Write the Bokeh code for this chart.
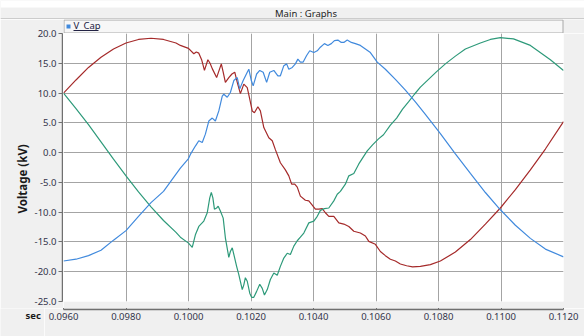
from bokeh.plotting import figure
from bokeh.models import Range1d, FixedTicker, NumeralTickFormatter, Grid, Title
from bokeh.layouts import column, row
from bokeh.core.properties import value
from bokeh.embed import file_html
from bokeh.resources import INLINE

# ---- capacitor voltages (kV) against time (s) ----
x_ticks = [0.0960, 0.0980, 0.1000, 0.1020, 0.1040, 0.1060, 0.1080, 0.1100, 0.1120]
y_ticks = [-25.0, -20.0, -15.0, -10.0, -5.0, 0.0, 5.0, 10.0, 15.0, 20.0]

red_t = [0.0960, 0.0964, 0.0968, 0.0972, 0.0976, 0.0980, 0.0984, 0.0988, 0.0992, 0.0996,
         0.09974, 0.1000, 0.10017, 0.10025, 0.10033, 0.10042, 0.10051, 0.10062, 0.10069, 0.10076,
         0.10090, 0.10105, 0.10111, 0.10118, 0.10129, 0.10139, 0.10148, 0.10156, 0.10166, 0.10177,
         0.10188, 0.10196, 0.10204, 0.10211, 0.10222, 0.10230, 0.10241, 0.10257, 0.10268, 0.10278,
         0.10294, 0.10310, 0.10321, 0.10330, 0.10340, 0.10348, 0.10358, 0.10374, 0.10385, 0.10396,
         0.10406, 0.10417, 0.10428, 0.10438, 0.10449, 0.10465, 0.10481, 0.10497, 0.10513, 0.10529,
         0.10550, 0.10566, 0.10577, 0.10598, 0.10614, 0.10630, 0.10646, 0.10662, 0.10678, 0.10698,
         0.10717, 0.10742, 0.10774, 0.10806, 0.10854, 0.10902, 0.10950, 0.10998, 0.11046, 0.11094,
         0.11142, 0.1120]
red_v = [10.0, 12.2, 14.3, 16.0, 17.4, 18.4, 19.0, 19.2, 19.0, 18.4,
         18.0, 17.5, 16.6, 16.9, 16.7, 15.6, 13.8, 15.6, 15.0, 14.1,
         12.6, 14.9, 13.5, 11.8, 12.6, 13.2, 13.5, 11.8, 9.9, 11.5,
         10.9, 9.0, 7.0, 6.7, 7.7, 7.0, 4.2, 2.5, 2.0, 0.5,
         -1.7, -2.9, -3.9, -5.3, -5.3, -5.8, -7.3, -8.0, -8.1, -8.8,
         -9.5, -9.5, -9.4, -10.1, -10.7, -10.7, -11.8, -12.0, -12.4, -13.2,
         -13.5, -14.0, -14.9, -15.4, -16.6, -17.3, -17.9, -18.2, -18.7, -19.0,
         -19.2, -19.1, -18.8, -18.2, -16.7, -14.6, -12.0, -9.3, -6.2, -2.9,
         0.6, 5.2]

blue_t = [0.0960, 0.0964, 0.0968, 0.0972, 0.0976, 0.0980, 0.0984, 0.0988, 0.0992, 0.0996,
          0.09974, 0.1000, 0.10006, 0.10022, 0.10033, 0.10044, 0.10054, 0.10065, 0.10076, 0.10086,
          0.10097, 0.10108, 0.10113, 0.10124, 0.10134, 0.10145, 0.10156, 0.10164, 0.10175, 0.10188,
          0.10193, 0.10201, 0.10207, 0.10218, 0.10228, 0.10239, 0.10250, 0.10260, 0.10273, 0.10286,
          0.10294, 0.10305, 0.10314, 0.10321, 0.10332, 0.10342, 0.10350, 0.10358, 0.10367, 0.10378,
          0.10388, 0.10401, 0.10412, 0.10422, 0.10435, 0.10446, 0.10457, 0.10467, 0.10478, 0.10489,
          0.10497, 0.10508, 0.10521, 0.10534, 0.10550, 0.10566, 0.10582, 0.10604, 0.10630, 0.10662,
          0.10694, 0.10726, 0.10758, 0.10806, 0.10854, 0.10902, 0.10950, 0.10998, 0.11046, 0.11094,
          0.11142, 0.1120]
blue_v = [-18.2, -17.9, -17.3, -16.4, -14.7, -13.1, -10.7, -8.4, -6.5, -3.6,
          -2.6, -1.0, -0.3, 1.1, 2.0, 1.7, 3.1, 5.3, 5.8, 5.3,
          7.0, 9.5, 9.8, 9.3, 10.1, 12.1, 12.6, 10.7, 12.1, 13.5,
          14.0, 12.1, 11.2, 13.2, 13.8, 13.5, 11.8, 13.5, 13.8, 12.9,
          12.9, 14.6, 14.9, 14.0, 14.3, 14.9, 15.7, 15.2, 15.2, 16.3,
          17.1, 16.8, 17.1, 17.7, 18.3, 18.0, 18.3, 18.8, 18.9, 18.5,
          18.5, 18.9, 18.5, 18.3, 18.0, 17.4, 16.8, 15.2, 14.0, 12.3,
          10.5, 8.5, 6.4, 3.2, -0.2, -3.5, -6.7, -9.6, -12.2, -14.4,
          -16.2, -17.5]

green_t = [0.0960, 0.0964, 0.0968, 0.0972, 0.0976, 0.0980, 0.0984, 0.0988, 0.0992, 0.0996,
           0.09974, 0.1000, 0.10012, 0.10022, 0.10033, 0.10049, 0.10060, 0.10068, 0.10073, 0.10078,
           0.10083, 0.10090, 0.10095, 0.10102, 0.10111, 0.10118, 0.10129, 0.10134, 0.10140, 0.10145,
           0.10154, 0.10161, 0.10172, 0.10177, 0.10182, 0.10188, 0.10196, 0.10202, 0.10209, 0.10218,
           0.10228, 0.10236, 0.10243, 0.10252, 0.10262, 0.10273, 0.10284, 0.10294, 0.10305, 0.10316,
           0.10326, 0.10337, 0.10348, 0.10358, 0.10369, 0.10385, 0.10401, 0.10412, 0.10422, 0.10435,
           0.10449, 0.10465, 0.10476, 0.10486, 0.10502, 0.10513, 0.10529, 0.10545, 0.10561, 0.10572,
           0.10589, 0.10608, 0.10624, 0.10646, 0.10666, 0.10685, 0.10704, 0.10723, 0.10742, 0.10768,
           0.10794, 0.10822, 0.10854, 0.10886, 0.10934, 0.10966, 0.10998, 0.11040, 0.11094, 0.11158,
           0.1120]
green_v = [10.0, 7.4, 4.7, 1.8, -1.1, -3.9, -6.6, -9.1, -11.4, -13.4,
           -14.2, -15.2, -15.9, -13.8, -12.4, -11.5, -10.1, -7.6, -6.7, -7.6,
           -9.5, -9.3, -9.0, -9.8, -11.0, -14.3, -17.6, -16.6, -16.0, -17.1,
           -19.1, -20.5, -23.0, -22.2, -21.0, -21.6, -23.6, -24.3, -24.3, -23.3,
           -22.1, -22.8, -23.9, -23.0, -21.3, -20.2, -20.6, -19.1, -17.7, -16.9,
           -17.1, -15.7, -14.8, -14.2, -13.5, -11.8, -11.5, -10.7, -9.7, -9.4,
           -9.3, -8.1, -7.0, -6.5, -5.3, -3.9, -3.5, -1.9, -0.6, 0.3,
           1.3, 2.3, 3.0, 4.6, 5.8, 7.3, 8.5, 9.8, 11.0, 12.3,
           13.6, 14.9, 16.2, 17.4, 18.4, 19.0, 19.3, 19.1, 18.0, 15.6,
           13.8]

PAGE = "#f0f0f0"
FONT = "Noto Sans"
AXIS = "#707070"
TXT = "#33334a"
GRID = "#a4a4a4"
RED = "#a52a2a"
GREEN = "#2e9a7a"
BLUE = "#418add"


def panel(width, height, **kw):
    """A figure without toolbar whose layout is not aligned with its neighbours."""
    opts = dict(output_backend="svg", toolbar_location=None, frame_align=False,
                background_fill_color=PAGE, border_fill_color=PAGE, outline_line_color=None)
    opts.update(kw)
    return figure(width=width, height=height, **opts)


def bare(width, height):
    """An axis-free panel whose range is its own pixel grid (y downwards)."""
    f = panel(width, height, x_range=Range1d(0, width), y_range=Range1d(height, 0),
              x_axis_location=None, y_axis_location=None, min_border=0)
    f.xgrid.visible = False
    f.ygrid.visible = False
    return f


# ---- window title bar ----
hdr = bare(584, 19)
hdr.quad(left=[0], right=[584], top=[0], bottom=[7], fill_color="white", line_color=None)
hdr.segment(x0=[0], y0=[18.5], x1=[584], y1=[18.5], line_color="#a8a8a8", line_width=1)
hdr.text(x=[305.5], y=[12.5], text=["Main : Graphs"], text_align="center",
         text_baseline="middle", text_font=value(FONT), text_font_size="9.5px",
         text_color="#1e1e1e")

# ---- legend strip over the plot ----
strip = bare(521, 14)
strip.quad(left=[0.5], right=[499.5], top=[0.5], bottom=[13.5], fill_color="#f7f7f7",
           line_color="#a8a8a8", line_width=1)
strip.quad(left=[3], right=[7], top=[5], bottom=[9], fill_color=BLUE, line_color=None)
strip.text(x=[10], y=[6.3], text=["V_Cap"], text_align="left", text_baseline="middle",
           text_font=value(FONT), text_font_size="9.5px", text_color="#222244")
strip.segment(x0=[10], y0=[11], x1=[35], y1=[11], line_color="#222244", line_width=1)

# ---- main plot panel ----
p = panel(521, 275, x_range=Range1d(0.096, 0.112), y_range=Range1d(-25, 20),
          x_axis_location=None, y_axis_location=None,
          min_border_left=0, min_border_right=21, min_border_top=0, min_border_bottom=7,
          background_fill_color="white")
p.add_layout(Grid(dimension=0, ticker=FixedTicker(ticks=x_ticks),
                  grid_line_color=GRID, grid_line_width=1))
p.add_layout(Grid(dimension=1, ticker=FixedTicker(ticks=y_ticks),
                  grid_line_color=GRID, grid_line_width=1))

p.line(red_t, red_v, line_color=RED, line_width=1.2)
p.line(green_t, green_v, line_color=GREEN, line_width=1.2)
p.line(blue_t, blue_v, line_color=BLUE, line_width=1.2)

# ---- voltage axis, sharing the plot's y range ----
left = panel(63, 289, x_range=Range1d(0, 1), y_range=p.y_range, x_axis_location=None,
             min_border_left=62, min_border_right=0, min_border_top=14, min_border_bottom=7)
left.ygrid.visible = False
yax = left.yaxis[0]
yax.ticker = FixedTicker(ticks=y_ticks)
yax.formatter = NumeralTickFormatter(format="0.0")
yax.axis_line_color = AXIS
yax.axis_line_width = 1.5
yax.major_tick_line_color = AXIS
yax.major_tick_in = 0
yax.major_tick_out = 4
yax.minor_tick_line_color = None
yax.major_label_standoff = 2
yax.major_label_text_font = FONT
yax.major_label_text_font_size = "9.5px"
yax.major_label_text_color = TXT
left.add_layout(Title(text="Voltage (kV)", align="left", offset=88, standoff=4,
                      text_font=FONT, text_font_size="11.5px", text_font_style="bold",
                      text_color="#1a1a1a"), "left")

# ---- detached time axis with its caption ----
sec = bare(44, 28)
sec.text(x=[25], y=[6.5], text=["sec"], text_align="left", text_baseline="middle",
         text_font=value(FONT), text_font_size="9.5px", text_font_style="bold",
         text_color="#1a1a1a")

axf = panel(540, 28, x_range=p.x_range, y_range=Range1d(0, 1), y_axis_location=None,
            min_border_left=19, min_border_right=21, min_border_top=0, min_border_bottom=27)
axf.xgrid.grid_line_color = None
xax = axf.xaxis[0]
xax.ticker = FixedTicker(ticks=x_ticks)
xax.formatter = NumeralTickFormatter(format="0.0000")
xax.axis_line_color = AXIS
xax.axis_line_width = 1.5
xax.major_tick_line_color = AXIS
xax.major_tick_in = 3
xax.major_tick_out = 0
xax.minor_tick_line_color = None
xax.major_label_standoff = 3
xax.major_label_text_font = FONT
xax.major_label_text_font_size = "9.5px"
xax.major_label_text_color = TXT

layout = column(hdr,
                row(left, column(strip, p, spacing=0), spacing=0),
                row(sec, axf, spacing=0),
                spacing=0)
open("out.html", "w").write(file_html(layout, INLINE))
